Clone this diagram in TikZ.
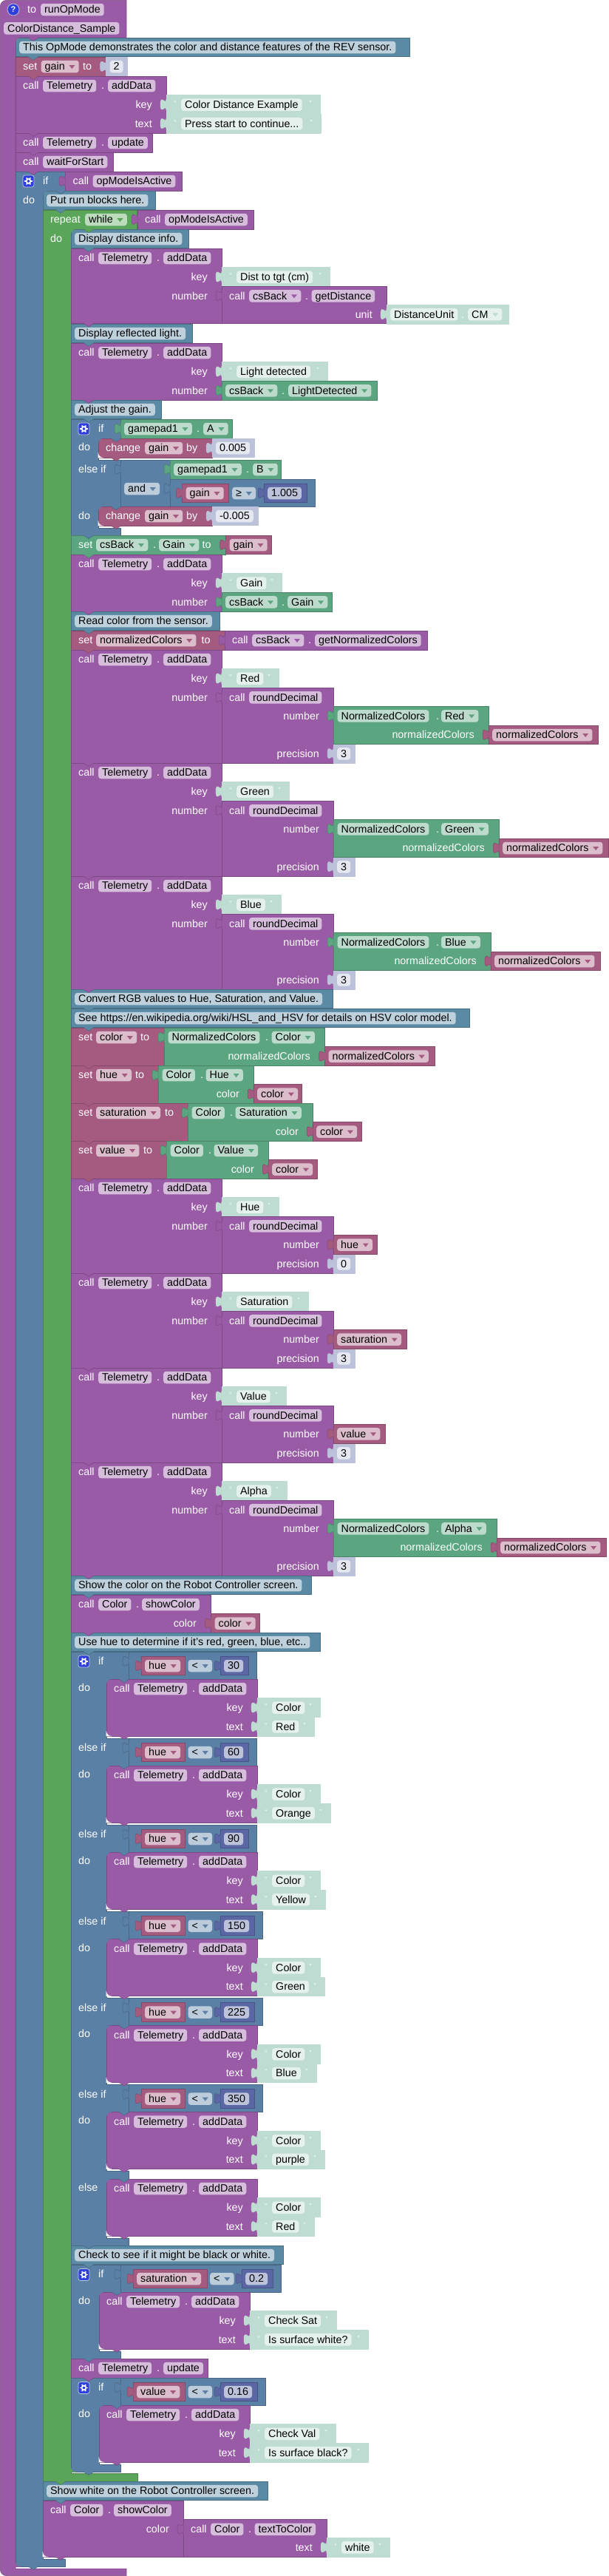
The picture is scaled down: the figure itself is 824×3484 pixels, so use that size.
\documentclass[tikz,border=0pt]{standalone}
\usepackage{fontspec}
\setmainfont{Liberation Sans}
\definecolor{pr}{HTML}{995BA5}\definecolor{prD}{HTML}{7A4984}\definecolor{prL}{HTML}{D6BDDB}
\definecolor{lg}{HTML}{5B80A5}\definecolor{lgD}{HTML}{496684}\definecolor{lgL}{HTML}{BDCCDB}
\definecolor{gn}{HTML}{5BA55B}\definecolor{gnD}{HTML}{498449}\definecolor{gnL}{HTML}{BDDBBD}
\definecolor{vr}{HTML}{A55B80}\definecolor{vrD}{HTML}{844966}\definecolor{vrL}{HTML}{DBBDCC}
\definecolor{mt}{HTML}{5B67A5}\definecolor{mtD}{HTML}{495284}\definecolor{mtL}{HTML}{BDC2DB}
\definecolor{ob}{HTML}{5BA580}\definecolor{obD}{HTML}{498466}\definecolor{obL}{HTML}{BDDBCC}
\definecolor{cmb}{HTML}{5B8AA5}\definecolor{cmbD}{HTML}{496E84}\definecolor{cmbL}{HTML}{BDD0DB}
\definecolor{st}{HTML}{BEDCD1}\definecolor{stD}{HTML}{BEDCD1}\definecolor{stL}{HTML}{E5F1ED}
\definecolor{ns}{HTML}{BDC2DB}\definecolor{nsD}{HTML}{BDC2DB}\definecolor{nsL}{HTML}{E5E7F1}
\definecolor{ico}{HTML}{2F3FDD}
\newcommand\bfn{\fontsize{14.3pt}{16pt}\selectfont}
\tikzset{
  wlbl/.style={inner sep=0pt,text=white,font=\bfn},
  pillbox/.style={inner xsep=5pt,inner ysep=0pt,rounded corners=3.5pt,text=black,font=\bfn,text height=13pt,text depth=3.5pt,anchor=base west},
  quot/.style={inner sep=0pt,text=white,font=\fontsize{10pt}{11pt}\selectfont,anchor=base},
  blockline/.style={line width=0.5pt}
}
\newcounter{nn}
\gdef\bumps{}
\newcommand\bump[3]{\fill[#1] (#2+17,#3-0.5) -- (#2+31,#3-0.5) -- (#2+24,#3+4.5) -- cycle;
  \draw[#1D,line width=0.5pt] (#2+17,#3) -- (#2+24,#3+4.5) -- (#2+31,#3);}
\makeatletter
\newcommand\qbump[3]{\expandafter\gdef\expandafter\bumps\expandafter{\bumps\bump{#1}{#2}{#3}}}
\makeatother
\newcommand\blbl[3]{\stepcounter{nn}\node[wlbl,anchor=base west] (n\arabic{nn}) at (#1,#2+17.8) {#3};}
\newcommand\brl[3]{\stepcounter{nn}\node[wlbl,anchor=base east] (n\arabic{nn}) at (#1,#2+17.8) {#3};}
\newcommand\bpill[4]{\stepcounter{nn}\node[pillbox,fill=#1L] (n\arabic{nn}) at (#2,#3+17.8) {#4};}
\newcommand\bdd[4]{\stepcounter{nn}\node[pillbox,fill=#1L] (n\arabic{nn}) at (#2,#3+17.8) {#4\kern14pt};
  \fill[#1] ([shift={(-13.5pt,2pt)}]n\arabic{nn}.east) -- ([shift={(-5.5pt,2pt)}]n\arabic{nn}.east) -- ([shift={(-9.5pt,-3pt)}]n\arabic{nn}.east) -- cycle;}
\newcommand\btab[3]{\fill[#1] (#2+0.6,#3-7.5) -- (#2,#3-7.5) .. controls (#2,#3+2.5) and (#2-8,#3-15.5) .. (#2-8,#3) .. controls (#2-8,#3+15.5) and (#2,#3-2.5) .. (#2,#3+7.5) -- (#2+0.6,#3+7.5) -- cycle;
  \draw[#1D,blockline] (#2,#3-7.5) .. controls (#2,#3+2.5) and (#2-8,#3-15.5) .. (#2-8,#3) .. controls (#2-8,#3+15.5) and (#2,#3-2.5) .. (#2,#3+7.5);}
\newcommand\bval[5]{\filldraw[fill=#1,draw=#1D,blockline] (#2,#3) rectangle (#4,#5);\btab{#1}{#2}{#3+12.8}}
\newcommand\stm[5]{\filldraw[fill=#1,draw=#1D,blockline] (#2,#3) rectangle (#4,#5);\qbump{#1}{#2}{#5}}
\newcommand\bpoly[2]{\filldraw[fill=#1,draw=#1D,blockline] #2 -- cycle;}
\newcommand\cnrTL[3]{\fill[#1] (#2-0.3,#3-0.3) -- (#2+7,#3-0.3) -- (#2+7,#3) .. controls (#2+3,#3) and (#2,#3+3) .. (#2,#3+7) -- (#2-0.3,#3+7) -- cycle;}
\newcommand\cnrBL[3]{\fill[#1] (#2-0.3,#3+0.3) -- (#2+7,#3+0.3) -- (#2+7,#3) .. controls (#2+3,#3) and (#2,#3-3) .. (#2,#3-7) -- (#2-0.3,#3-7) -- cycle;}
\newcommand\gear[2]{\filldraw[fill=ico,draw=lgL,line width=0.7pt,rounded corners=3pt] (#1,#2) rectangle (#1+15,#2+16);
  \draw[white,line width=1.7pt] (#1+7.5,#2+8) circle[radius=2.9];
  \foreach \a in {0,60,...,300} {\draw[white,line width=1.7pt] (#1+7.5,#2+8) ++(\a:3) -- ++(\a:2.2);}}
\newcommand\bcmt[4]{\stm{cmb}{#1}{#2}{#3}{#2+25.67}\bpill{cmb}{#1+5}{#2}{#4}}
\newcommand\bstr[4]{\bval{st}{#1}{#2}{#3}{#2+25.67}%
  \stepcounter{nn}\node[quot] (n\arabic{nn}) at (#1+12,#2+15) {“};%
  \stepcounter{nn}\node[quot] (n\arabic{nn}) at (#3-13,#2+15) {”};%
  \bpill{st}{#1+20}{#2}{#4}}
\newcommand\bnum[4]{\bval{ns}{#1}{#2}{#3}{#2+25.67}\bpill{ns}{#1+5}{#2}{#4}}
\newcommand\bmath[4]{\bval{mt}{#1}{#2}{#3}{#2+25.67}\bpill{mt}{#1+5}{#2}{#4}}
\newcommand\bvar[4]{\bval{vr}{#1}{#2}{#3}{#2+25.67}\bdd{vr}{#1+5}{#2}{#4}}
\newcommand\tele[3]{\blbl{#1+10}{#2}{call}\bpill{pr}{#1+37}{#2}{Telemetry}\blbl{#1+116}{#2}{.}\bpill{pr}{#1+125}{#2}{#3}}
\newcommand\tkt[6]{\stm{pr}{#1}{#2}{#1+204}{#2+77}\tele{#1}{#2}{addData}%
  \brl{#1+185}{#2+25.67}{key}\brl{#1+185}{#2+51.33}{text}%
  \bstr{#1+204}{#2+25.67}{#4}{#3}\bstr{#1+204}{#2+51.33}{#6}{#5}}
\newcommand\trd[5]{\stm{pr}{96}{#1}{300}{#2}\tele{96}{#1}{addData}%
  \brl{281}{#1+25.67}{key}\brl{281}{#1+51.33}{number}%
  \bstr{300}{#1+25.67}{#4}{#3}%
  \bval{pr}{300}{#1+51.33}{451}{#2}%
  \blbl{310}{#1+51.33}{call}\bpill{pr}{337}{#1+51.33}{roundDecimal}%
  \brl{432}{#1+77}{number}\brl{432}{#2-25.67}{precision}%
  \bnum{451}{#2-25.67}{480}{#5}}
\newcommand\normc[3]{\bval{ob}{451}{#1}{#2}{#1+51.33}\bpill{ob}{456.5}{#1}{NormalizedColors}\blbl{590}{#1}{.}\bdd{ob}{597}{#1}{#3}%
  \brl{#2-19}{#1+25.67}{normalizedColors}\bvar{#2}{#1+25.67}{#2+148}{normalizedColors}}
\newcommand\colf[5]{\bval{ob}{#1}{#2}{#3}{#2+51}\bpill{ob}{#1+5.5}{#2}{Color}\blbl{#1+57}{#2}{.}\bdd{ob}{#1+64.5}{#2}{#4}%
  \brl{#3-19}{#2+25.67}{color}\bvar{#3}{#2+25.67}{#5}{color}}
\newcommand\cmpb[9]{\bval{lg}{#1}{#2}{#3}{#2+37}\bvar{#1+17}{#2+6}{#5}{#4}\bdd{lg}{#6}{#2+6}{<}\bmath{#7}{#2+6}{#8}{#9}}
\newcommand\hb[7]{\lbrow{#1}{#2}{#3}{#4}{#5}\tkt{144}{#1+37}{Color}{433}{#7}{#6}\cnrTL{lg}{144}{#1+37}\cnrBL{white}{144}{#1+114}\qbump{lg}{144}{#1+37}}
\newcommand\lbrow[5]{\cmpb{174}{#1}{#3}{hue}{250}{254.5}{298}{#4}{#5}\blbl{106}{#1+35.5}{do}}
\begin{document}
\begin{tikzpicture}[x=1pt,y=-1pt]
\fill[white] (0,0) rectangle (824,3484);
\useasboundingbox (0,0) rectangle (824,3484);
% root
\filldraw[fill=pr,draw=prD,blockline] (171,51) -- (21,51) -- (21,3474) -- (171,3474) -- (171,3483.5) [rounded corners=8pt] -- (0.4,3483.5) -- (0.4,0.4) [sharp corners] -- (171,0.4) -- cycle;
\node[circle,fill=ico,draw=lgL,line width=0.7pt,inner sep=0pt,minimum size=16pt,text=white,font=\fontsize{11pt}{12pt}\selectfont\bfseries] (help) at (18,13) {?};
\blbl{37}{0}{to}\bpill{pr}{55}{0}{runOpMode}
\bpill{pr}{5}{25.3}{ColorDistance\_Sample}
\qbump{pr}{21}{51}
\bcmt{21}{51}{554}{This OpMode demonstrates the color and distance features of the REV sensor.}\cnrTL{pr}{21}{51}
\stm{vr}{21}{77}{143}{103}\blbl{31}{77}{set}\bdd{vr}{55.5}{77}{gain}\blbl{112}{77}{to}\bnum{143.5}{77}{172}{2}
\tkt{21}{103}{Color Distance Example}{433}{Press start to continue...}{434}
\stm{pr}{21}{180}{206}{206}\tele{21}{180}{update}
\stm{pr}{21}{206}{153}{232}\blbl{31}{206}{call}\bpill{pr}{58}{206}{waitForStart}
% outer if
\bpoly{lg}{(21,232) -- (88,232) -- (88,258) -- (58,258) -- (58,3461) -- (88,3461) -- (88,3471) -- (21,3471)}\cnrBL{pr}{21}{3471.3}
\gear{31}{237}\blbl{58}{232}{if}\blbl{31}{258}{do}
\bval{pr}{88}{232}{246}{258}\blbl{98.5}{232}{call}\bpill{pr}{125.5}{232}{opModeIsActive}
\qbump{lg}{58}{258}
\bcmt{58}{258}{210}{Put run blocks here.}\cnrTL{lg}{58}{258}
% repeat
\bpoly{gn}{(58,284) -- (185,284) -- (185,310) -- (96,310) -- (96,3345) -- (186,3345) -- (186,3356) -- (58,3356)}
\qbump{gn}{58}{3356}
\blbl{68}{284}{repeat}\bdd{gn}{115}{284}{while}
\bval{pr}{186}{284}{343}{310}\blbl{196}{284}{call}\bpill{pr}{223}{284}{opModeIsActive}
\blbl{68}{310}{do}
\qbump{gn}{96}{310}
\bcmt{96}{310}{255}{Display distance info.}\cnrTL{gn}{96}{310}
\stm{pr}{96}{336}{300}{437.5}\tele{96}{336}{addData}\brl{281}{361.67}{key}\brl{281}{387.3}{number}
\bstr{300}{361.67}{446}{Dist to tgt (cm)}
\bval{pr}{300}{387.3}{523}{437.5}\blbl{310}{387.3}{call}\bdd{pr}{337}{387.3}{csBack}\blbl{413}{387.3}{.}\bpill{pr}{421.5}{387.3}{getDistance}
\brl{504}{412.8}{unit}
\bval{st}{523}{412.3}{688}{438}\bpill{st}{528}{412.3}{DistanceUnit}\blbl{624}{412.3}{.}\bdd{st}{633}{412.3}{CM}
\bcmt{96}{438}{260}{Display reflected light.}
\stm{pr}{96}{464}{300}{541}\tele{96}{464}{addData}\brl{281}{489.67}{key}\brl{281}{515.3}{number}
\bstr{300}{489.67}{443}{Light detected}
\bval{ob}{300}{515.3}{510}{541}\bdd{ob}{305}{515.3}{csBack}\blbl{381}{515.3}{.}\bdd{ob}{390}{515.3}{LightDetected}
\bcmt{96}{541}{218}{Adjust the gain.}
% gain if
\bpoly{lg}{(96,567) -- (163,567) -- (163,593) -- (133,593) -- (133,622) -- (163,622) -- (163,685) -- (133,685) -- (133,714) -- (163,714) -- (163,724) -- (96,724)}
\gear{106}{572}\blbl{133}{567}{if}\blbl{106}{592}{do}
\bval{ob}{163}{567}{314}{593}\bdd{ob}{168}{567}{gamepad1}\blbl{266}{567}{.}\bdd{ob}{275}{567}{A}
\stm{vr}{133}{593}{287}{619}\blbl{143}{593}{change}\bdd{vr}{196}{593}{gain}\blbl{252}{593}{by}\bnum{287}{593}{344}{0.005}
\cnrTL{lg}{133}{593}\cnrBL{white}{133}{619}\qbump{lg}{133}{593}
\blbl{106}{622}{else if}
\bval{lg}{163}{622}{230}{685}\bdd{lg}{168}{648}{and}
\bval{ob}{230}{622}{380}{648}\bdd{ob}{235}{622}{gamepad1}\blbl{333}{622}{.}\bdd{ob}{342}{622}{B}
\bval{lg}{230}{648}{426}{685}\bvar{246.5}{654}{309}{gain}\bdd{lg}{314}{654}{≥}\bmath{357}{654}{415}{1.005}
\blbl{106}{685}{do}
\stm{vr}{133}{685}{287}{711}\blbl{143}{685}{change}\bdd{vr}{196}{685}{gain}\blbl{252}{685}{by}\bnum{287}{685}{349}{-0.005}
\cnrTL{lg}{133}{685}\cnrBL{white}{133}{711}\qbump{lg}{133}{685}\qbump{lg}{96}{724}
% set gain
\stm{ob}{96}{724}{305}{750}\blbl{106}{724}{set}\bdd{ob}{130}{724}{csBack}\blbl{207}{724}{.}\bdd{ob}{215}{724}{Gain}\blbl{273.5}{724}{to}\bvar{305.5}{724}{367.5}{gain}
\stm{pr}{96}{750}{300}{827}\tele{96}{750}{addData}\brl{281}{775.67}{key}\brl{281}{801.3}{number}
\bstr{300}{775.67}{381}{Gain}
\bval{ob}{300}{801.3}{449}{827}\bdd{ob}{305}{801.3}{csBack}\blbl{381}{801.3}{.}\bdd{ob}{389}{801.3}{Gain}
\bcmt{96}{827}{297}{Read color from the sensor.}
\stm{vr}{96}{853}{304}{879}\blbl{106}{853}{set}\bdd{vr}{130}{853}{normalizedColors}\blbl{272.5}{853}{to}
\bval{pr}{304}{853}{578}{879}\blbl{314}{853}{call}\bdd{pr}{341}{853}{csBack}\blbl{417}{853}{.}\bpill{pr}{426}{853}{getNormalizedColors}
\trd{879}{1032}{Red}{377}{3}\normc{955.3}{661}{Red}
\trd{1032}{1185}{Green}{391}{3}\normc{1108.3}{675}{Green}
\trd{1185}{1338}{Blue}{380}{3}\normc{1261.3}{664}{Blue}
\bcmt{96}{1338}{450}{Convert RGB values to Hue, Saturation, and Value.}
\bcmt{96}{1364}{635}{See https://en.wikipedia.org/wiki/HSL\_and\_HSV for details on HSV color model.}
% set colour
\stm{vr}{96}{1390}{222}{1441}\blbl{106}{1390}{set}\bdd{vr}{130}{1390}{color}\blbl{190}{1390}{to}
\bval{ob}{222}{1390}{439}{1441}\bpill{ob}{227.5}{1390}{NormalizedColors}\blbl{359}{1390}{.}\bdd{ob}{367.5}{1390}{Color}
\brl{420}{1415.67}{normalizedColors}\bvar{439.5}{1415.67}{588}{normalizedColors}
\stm{vr}{96}{1441}{214}{1492}\blbl{106}{1441}{set}\bdd{vr}{130}{1441}{hue}\blbl{183}{1441}{to}\colf{214}{1441}{343}{Hue}{408}
\stm{vr}{96}{1492}{254}{1543}\blbl{106}{1492}{set}\bdd{vr}{130}{1492}{saturation}\blbl{223}{1492}{to}\colf{254}{1492}{423}{Saturation}{489}
\stm{vr}{96}{1543}{225}{1594}\blbl{106}{1543}{set}\bdd{vr}{130}{1543}{value}\blbl{194}{1543}{to}\colf{225}{1543}{363}{Value}{429}
\trd{1594}{1722}{Hue}{377}{0}\bvar{451}{1670.5}{510}{hue}
\trd{1722}{1850}{Saturation}{417}{3}\bvar{451}{1798.5}{550}{saturation}
\trd{1850}{1978}{Value}{387}{3}\bvar{451}{1926.3}{521}{value}
\trd{1978}{2131}{Alpha}{388}{3}\normc{2054.3}{672}{Alpha}
\bcmt{96}{2131}{421}{Show the color on the Robot Controller screen.}
\stm{pr}{96}{2157}{285}{2208}\blbl{106}{2157}{call}\bpill{pr}{133}{2157}{Color}\blbl{184}{2157}{.}\bpill{pr}{192}{2157}{showColor}
\brl{266}{2182.67}{color}\bvar{285.5}{2182.67}{351}{color}
\bcmt{96}{2208}{433}{Use hue to determine if it's red, green, blue, etc..}
% hue if
\bpoly{lg}{(96,2234) -- (174,2234) -- (174,2271) -- (144,2271) -- (144,2351) -- (174,2351) -- (174,2388) -- (144,2388) -- (144,2468) -- (174,2468) -- (174,2505) -- (144,2505) -- (144,2585.7) -- (174,2585.7) -- (174,2622.7) -- (144,2622.7) -- (144,2702.6) -- (174,2702.6) -- (174,2739.6) -- (144,2739.6) -- (144,2819.5) -- (174,2819.5) -- (174,2856.5) -- (144,2856.5) -- (144,2936) -- (174,2936) -- (174,2947) -- (144,2947) -- (144,3027) -- (174,3027) -- (174,3037) -- (96,3037)}
\gear{106}{2239}\blbl{133}{2234}{if}
\hb{2234}{}{347}{336}{30}{425}{Red}
\blbl{106}{2351}{else if}\hb{2351}{}{347}{336}{60}{447}{Orange}
\blbl{106}{2468}{else if}\hb{2468}{}{347}{336}{90}{440}{Yellow}
\blbl{106}{2585.7}{else if}\hb{2585.7}{}{355}{344.5}{150}{439}{Green}
\blbl{106}{2702.6}{else if}\hb{2702.6}{}{355}{344.5}{225}{428}{Blue}
\blbl{106}{2819.5}{else if}\hb{2819.5}{}{355}{344.5}{350}{439}{purple}
\blbl{106}{2946}{else}
\tkt{144}{2947}{Color}{433}{Red}{425}\cnrTL{lg}{144}{2947}\cnrBL{white}{144}{3024}\qbump{lg}{144}{2947}\qbump{lg}{96}{3037}
\bcmt{96}{3037}{383}{Check to see if it might be black or white.}
% saturation if
\bpoly{lg}{(96,3063) -- (163,3063) -- (163,3100) -- (134,3100) -- (134,3180) -- (163,3180) -- (163,3190) -- (96,3190)}
\gear{106}{3068.5}\blbl{133}{3063}{if}\blbl{106}{3099}{do}
\cmpb{163}{3063}{380}{saturation}{280}{284}{327}{369}{0.2}
\tkt{134}{3100}{Check Sat}{455}{Is surface white?}{498}\cnrTL{lg}{134}{3100}\cnrBL{white}{134}{3177}\qbump{lg}{134}{3100}\qbump{lg}{96}{3190}
\stm{pr}{96}{3190}{281}{3216}\tele{96}{3190}{update}
% value if
\bpoly{lg}{(96,3216) -- (163,3216) -- (163,3253) -- (134,3253) -- (134,3333) -- (163,3333) -- (163,3343) -- (96,3343)}\cnrBL{gn}{96}{3343.3}
\gear{106}{3221.5}\blbl{133}{3216}{if}\blbl{106}{3252}{do}
\cmpb{163}{3216}{359}{value}{250}{254.5}{298}{348}{0.16}
\tkt{134}{3253}{Check Val}{454}{Is surface black?}{498}\cnrTL{lg}{134}{3253}\cnrBL{white}{134}{3330}\qbump{lg}{134}{3253}\qbump{lg}{96}{3343}
% after repeat
\bcmt{58}{3356}{362}{Show white on the Robot Controller screen.}
\stm{pr}{58}{3382}{248}{3458}\blbl{68}{3382}{call}\bpill{pr}{95}{3382}{Color}\blbl{146}{3382}{.}\bpill{pr}{154}{3382}{showColor}
\brl{229}{3407.67}{color}
\bval{pr}{248}{3407.67}{442}{3458}\blbl{258}{3407.67}{call}\bpill{pr}{285}{3407.67}{Color}\blbl{336}{3407.67}{.}\bpill{pr}{344.5}{3407.67}{textToColor}
\brl{423}{3432.33}{text}\bstr{442}{3432.33}{527}{white}
\cnrBL{white}{58}{3458}\qbump{lg}{21}{3471}
\bumps
\end{tikzpicture}
\end{document}
